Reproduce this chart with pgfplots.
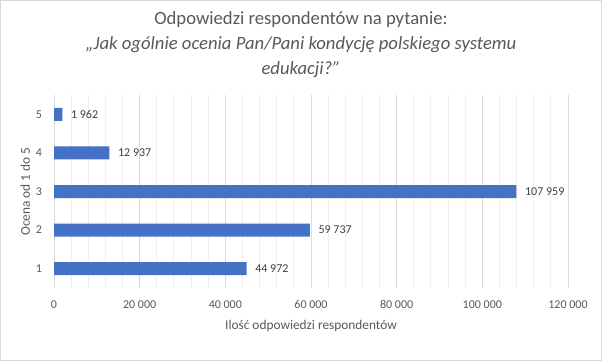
\documentclass[border=0pt]{standalone}
\usepackage{pgfplots}
\pgfplotsset{compat=1.18}
\usepackage{fontspec}
\setmainfont{Carlito}
\definecolor{barblue}{HTML}{4472C4}
\definecolor{txt}{HTML}{595959}
\definecolor{valtxt}{HTML}{404040}
\definecolor{majgrid}{HTML}{D9D9D9}
\definecolor{mingrid}{HTML}{EEEEEE}
\begin{document}
\begin{tikzpicture}[x=1pt,y=1pt]
\draw[draw=majgrid, fill=white, line width=0.75pt] (0.375,0.375) rectangle (451.125,270.375);
\begin{axis}[
  at={(40.5pt,54.75pt)}, anchor=south west,
  scale only axis, width=385.5pt, height=144.75pt,
  xbar, bar width=9.75pt,
  xmin=0, xmax=120000, ymin=0.5, ymax=5.5,
  xtick={0,20000,40000,60000,80000,100000,120000},
  xticklabels={0,20 000,40 000,60 000,80 000,100 000,120 000},
  minor x tick num=4,
  ytick={1,2,3,4,5},
  yticklabels={1,2,3,4,5},
  scaled x ticks=false,
  axis line style={draw=none},
  major tick length=0pt, minor tick length=0pt,
  xmajorgrids, xminorgrids,
  major grid style={draw=majgrid, line width=0.75pt},
  minor grid style={draw=mingrid, line width=0.75pt},
  ticklabel style={font=\fontsize{9}{11}\selectfont, text=txt},
  xticklabel style={yshift=-6pt},
  yticklabel style={xshift=-5.5pt},
  point meta=explicit symbolic,
  nodes near coords,
  nodes near coords style={font=\fontsize{9}{11}\selectfont, text=valtxt, anchor=west, xshift=3pt},
  clip=false,
]
\addplot[draw=none, fill=barblue] coordinates {
  (44972,1) [44 972]
  (59737,2) [59 737]
  (107959,3) [107 959]
  (12937,4) [12 937]
  (1962,5) [1 962]
};
\end{axis}
\node[align=center, text=txt, font=\fontsize{14}{18.75}\selectfont] at (225.75,237.5)
  {Odpowiedzi respondentów na pytanie:\\ \textit{„Jak ogólnie ocenia Pan/Pani kondycję polskiego systemu}\\ \textit{edukacji?”}};
\node[text=txt, font=\fontsize{10}{12}\selectfont] at (233.25,26) {Ilość odpowiedzi respondentów};
\node[text=txt, font=\fontsize{10}{12}\selectfont, rotate=90] at (19,127) {Ocena od 1 do 5};
\end{tikzpicture}
\end{document}
